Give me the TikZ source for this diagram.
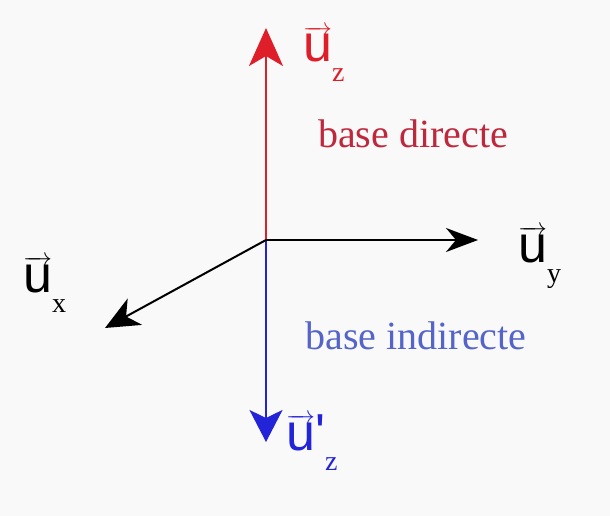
\documentclass[tikz,border=0pt]{standalone}
\usepackage{fontspec}
\setmainfont{Liberation Serif}
\setsansfont{Liberation Sans}
\usetikzlibrary{arrows.meta}
\definecolor{bg}{RGB}{249,249,249}
\definecolor{axred}{RGB}{222,30,40}
\definecolor{axblue}{RGB}{35,35,215}
\definecolor{txred}{RGB}{190,40,60}
\definecolor{txblue}{RGB}{85,100,200}
\newcommand{\vu}{$\overrightarrow{\mbox{\sffamily u}}$}
\newcommand{\sub}[1]{\raisebox{-20pt}{\rmfamily\fontsize{28}{28}\selectfont #1}}
\tikzset{
  axis/.style={line width=2pt},
  vlabel/.style={inner sep=0pt, anchor=base west, font=\sffamily\fontsize{52}{52}\selectfont},
  basetxt/.style={inner sep=0pt, anchor=base, font=\rmfamily\fontsize{40}{40}\selectfont},
}
\begin{document}
\begin{tikzpicture}[x=1pt,y=-1pt]
\fill[bg] (0,0) rectangle (610,516);
\useasboundingbox (0,0) rectangle (610,516);
\coordinate (O) at (266,240);
\coordinate (zt) at (266,28);
\coordinate (zp) at (266,442);
\coordinate (yt) at (478,240);
\coordinate (xt) at (105,328);
\draw[axis, axred, -{Stealth[length=38pt,width=34pt,inset=10pt]}] (O) -- (zt);
\draw[axis, axblue, -{Stealth[length=32pt,width=33pt,inset=8pt]}] (O) -- (zp);
\draw[axis, black, -{Stealth[length=32pt,width=24pt,inset=10pt]}] (O) -- (yt);
\draw[axis, black, -{Stealth[length=34pt,width=30pt,inset=10pt]}] (O) -- (xt);
\node[vlabel, text=axred] (uz) at (303,62) {\vu\sub{z}};
\node[vlabel, text=axblue] (uzp) at (286,450) {\vu\raisebox{0pt}{\textquotesingle}\sub{z}};
\node[vlabel] (uy) at (518,262) {\vu\sub{y}};
\node[vlabel] (ux) at (23,292) {\vu\sub{x}};
\node[basetxt, text=txred] (bd) at (413,147) {base directe};
\node[basetxt, text=txblue] (bi) at (416,349) {base indirecte};
\end{tikzpicture}
\end{document}
